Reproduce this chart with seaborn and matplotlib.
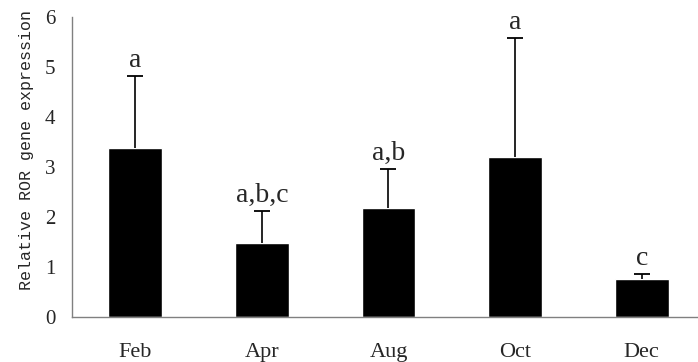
import numpy as np
import pandas as pd
import matplotlib
matplotlib.use("Agg")
import matplotlib.pyplot as plt
import seaborn as sns
from matplotlib.ticker import FixedLocator

months = ["Feb", "Apr", "Aug", "Oct", "Dec"]
expression = [3.37, 1.48, 2.17, 3.20, 0.75]
err_upper = [1.45, 0.64, 0.79, 2.37, 0.10]
letters = ["a", "a,b,c", "a,b", "a", "c"]

sns.set_style("white")
plt.rcParams["font.family"] = ["Liberation Serif", "DejaVu Serif"]

df = pd.DataFrame({"month": months, "expr": expression})

fig = plt.figure(figsize=(6.98, 3.62), dpi=100)
ax = fig.add_axes([0.1032, 0.1251, 0.8968, 0.8287])

sns.barplot(data=df, x="month", y="expr", color="black", width=0.425,
            errorbar=None, saturation=1, ax=ax)

# upper-only error bars
xs = np.arange(len(months))
tops = np.array(expression) + np.array(err_upper)
ax.vlines(xs, expression, tops, color="black", linewidth=1.2)
ax.plot(xs, tops, linestyle="none", marker="_", markersize=11,
        markeredgewidth=1.3, color="black")

for x, t, lab in zip(xs, tops, letters):
    ax.annotate(lab, (x, t), xytext=(0, 6.5), textcoords="offset points",
                ha="center", va="baseline", fontsize=20)

ax.set_ylim(0, 6)
ax.set_xlim(-0.5, 4.445)
ax.set_yticks(range(7))
ax.tick_params(axis="y", direction="in", length=6, color="#808080",
               labelsize=15, pad=12)
ax.tick_params(axis="x", which="major", length=0, labelsize=16, pad=19)
ax.xaxis.set_minor_locator(FixedLocator([0.5, 1.5, 2.5, 3.5]))
ax.tick_params(axis="x", which="minor", direction="in", length=6, color="#808080")

for s in ["top", "right"]:
    ax.spines[s].set_visible(False)
for s in ["left", "bottom"]:
    ax.spines[s].set_color("#808080")
    ax.spines[s].set_linewidth(1)

ax.set_xlabel("")
ax.set_ylabel("Relative ROR gene expression", fontsize=12,
              family=["Liberation Mono", "DejaVu Sans Mono"])
ax.yaxis.set_label_coords(-0.06, 0.556)

fig.savefig("out.png", dpi=100)
